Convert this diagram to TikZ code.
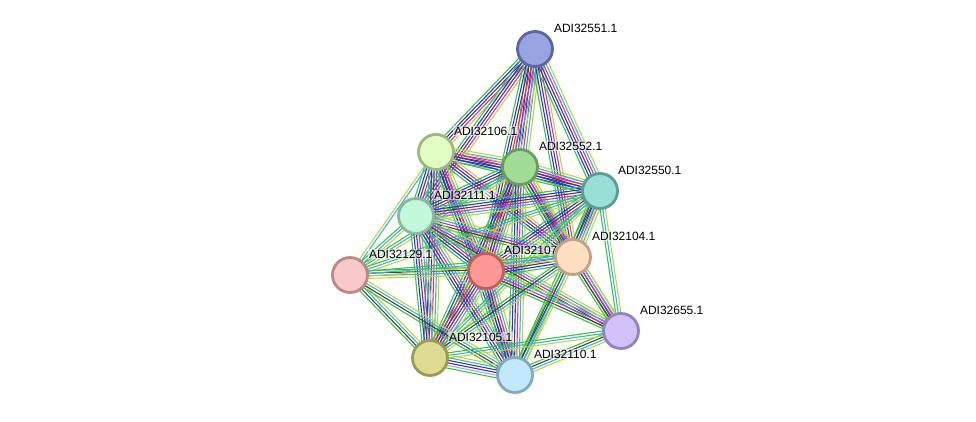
\documentclass[tikz,border=0pt]{standalone}
\usepackage{fontspec}
\setmainfont{Liberation Sans}
\usetikzlibrary{calc,backgrounds}

% node colours (fill / border)
\definecolor{f51}{HTML}{99A5E0}\definecolor{d51}{HTML}{5A66A6}
\definecolor{f06}{HTML}{E2FFC4}\definecolor{d06}{HTML}{9AB880}
\definecolor{f52}{HTML}{A1DC96}\definecolor{d52}{HTML}{6A9C5F}
\definecolor{f50}{HTML}{9ADFD6}\definecolor{d50}{HTML}{5A9C96}
\definecolor{f11}{HTML}{C2F9DB}\definecolor{d11}{HTML}{88B9A0}
\definecolor{f04}{HTML}{FFDFC2}\definecolor{d04}{HTML}{BFA088}
\definecolor{f07}{HTML}{FF9797}\definecolor{d07}{HTML}{BF5F5F}
\definecolor{f29}{HTML}{F8C9C9}\definecolor{d29}{HTML}{BF8888}
\definecolor{f55}{HTML}{D2C2F9}\definecolor{d55}{HTML}{9282C2}
\definecolor{f05}{HTML}{DEDB95}\definecolor{d05}{HTML}{9D9B52}
\definecolor{f10}{HTML}{C2E8FC}\definecolor{d10}{HTML}{82A8C2}
% evidence line colours
\definecolor{eG}{HTML}{3DC23D}
\definecolor{eB}{HTML}{2B2BFF}
\definecolor{eK}{HTML}{444444}
\definecolor{eM}{HTML}{D02AD0}
\definecolor{eR}{HTML}{FF2B2B}
\definecolor{eC}{HTML}{33B5E0}
\definecolor{eY}{HTML}{C2D43A}
\definecolor{eL}{HTML}{A6A6F8}

% bundle of parallel lines between two nodes
\newcommand{\bundle}[3]{%
  \foreach \c [count=\n] in {#3} {\xdef\bn{\n}}%
  \foreach \c [count=\i] in {#3} {
    \pgfmathsetmacro\off{(\i-(\bn+1)/2)*2.6}
    \draw[evline, \c] ($(#1)!\off pt!90:(#2)$) -- ($(#2)!\off pt!-90:(#1)$);
  }}

\begin{document}
\begin{tikzpicture}[x=1pt, y=-1pt,
  prot/.style 2 args={circle, minimum size=35pt, inner sep=0pt,
                      line width=2.8pt, fill=#1, draw=#2},
  lbl/.style={anchor=base west, inner sep=0.8pt, fill=white,
              fill opacity=0.55, text opacity=1,
              font=\fontsize{12}{14}\selectfont},
  evline/.style={line width=1.1pt},
]
\useasboundingbox (0,0) rectangle (976,421);

% === Proteins ===
\node[prot={f51}{d51}] (n51) at (535,49) {};
\node[lbl] (l51) at ($(n51)+(18,-17)$) {ADI32551.1};
\node[prot={f06}{d06}] (n06) at (436,152) {};
\node[lbl] (l06) at ($(n06)+(17,-17)$) {ADI32106.1};
\node[prot={f52}{d52}] (n52) at (520,167) {};
\node[lbl] (l52) at ($(n52)+(18,-17)$) {ADI32552.1};
\node[prot={f50}{d50}] (n50) at (600,191) {};
\node[lbl] (l50) at ($(n50)+(17,-17)$) {ADI32550.1};
\node[prot={f11}{d11}] (n11) at (416,216) {};
\node[lbl] (l11) at ($(n11)+(17,-17)$) {ADI32111.1};
\node[prot={f07}{d07}] (n07) at (486,271) {};
\node[lbl] (l07) at ($(n07)+(17,-17)$) {ADI32107.1};
\node[prot={f04}{d04}] (n04) at (573,257) {};
\node[lbl] (l04) at ($(n04)+(18,-17)$) {ADI32104.1};
\node[prot={f29}{d29}] (n29) at (350,275) {};
\node[lbl] (l29) at ($(n29)+(18,-17)$) {ADI32129.1};
\node[prot={f55}{d55}] (n55) at (621,331) {};
\node[lbl] (l55) at ($(n55)+(18,-17)$) {ADI32655.1};
\node[prot={f05}{d05}] (n05) at (430,358) {};
\node[lbl] (l05) at ($(n05)+(18,-17)$) {ADI32105.1};
\node[prot={f10}{d10}] (n10) at (515,375) {};
\node[lbl] (l10) at ($(n10)+(18,-17)$) {ADI32110.1};

% === Interactions ===
\begin{pgfonlayer}{background}
\bundle{n51}{n06}{eG,eB,eK,eM,eY}
\bundle{n51}{n11}{eG,eB,eK,eM,eY}
\bundle{n51}{n52}{eG,eB,eK,eM,eC,eY}
\bundle{n51}{n07}{eG,eB,eK,eR,eM,eC,eY}
\bundle{n51}{n04}{eG,eB,eK,eM,eY}
\bundle{n51}{n50}{eG,eB,eK,eM,eC,eY}
\bundle{n06}{n52}{eG,eB,eK,eM,eC,eY}
\bundle{n06}{n50}{eG,eB,eK,eM,eY}
\bundle{n06}{n11}{eG,eB,eK,eM,eC,eY}
\bundle{n06}{n07}{eG,eB,eK,eM,eC,eY}
\bundle{n06}{n04}{eG,eB,eK,eM,eY}
\bundle{n06}{n29}{eY,eC}
\bundle{n06}{n05}{eG,eB,eK,eM,eC,eY}
\bundle{n06}{n10}{eG,eB,eK,eM,eY}
\bundle{n52}{n50}{eG,eB,eK,eM,eC,eY}
\bundle{n52}{n11}{eG,eB,eK,eM,eC,eY}
\bundle{n52}{n07}{eG,eR,eB,eK,eM,eC,eY}
\bundle{n52}{n04}{eG,eB,eK,eM,eC,eY}
\bundle{n52}{n29}{eG,eC,eY}
\bundle{n52}{n05}{eG,eB,eK,eM,eY}
\bundle{n52}{n10}{eG,eB,eK,eM,eC,eY}
\bundle{n52}{n55}{eG,eK,eM,eY}
\bundle{n50}{n11}{eG,eB,eK,eM,eC,eY}
\bundle{n50}{n07}{eG,eB,eK,eM,eC,eY}
\bundle{n50}{n04}{eG,eB,eK,eM,eC,eY}
\bundle{n50}{n29}{eG,eC,eY}
\bundle{n50}{n55}{eG,eC,eY}
\bundle{n50}{n05}{eG,eC,eY}
\bundle{n50}{n10}{eG,eK,eC,eY}
\bundle{n11}{n07}{eG,eB,eK,eM,eC,eY}
\bundle{n11}{n04}{eG,eK,eM,eC,eY}
\bundle{n11}{n29}{eG,eC,eY}
\bundle{n11}{n05}{eG,eB,eK,eM,eC,eY}
\bundle{n11}{n10}{eG,eB,eK,eM,eC,eY}
\bundle{n11}{n55}{eG,eK,eM,eC,eY}
\bundle{n07}{n04}{eG,eB,eK,eM,eC,eY}
\bundle{n07}{n29}{eG,eK,eC,eY}
\bundle{n07}{n55}{eG,eK,eM,eC,eY}
\bundle{n07}{n05}{eG,eR,eB,eK,eM,eC,eY}
\bundle{n07}{n10}{eG,eB,eK,eM,eC,eY}
\bundle{n04}{n29}{eG,eC,eY}
\bundle{n04}{n55}{eG,eK,eM,eC,eY}
\bundle{n04}{n05}{eG,eK,eC,eY}
\bundle{n04}{n10}{eG,eK,eC,eY}
\bundle{n29}{n05}{eG,eK,eC,eY}
\bundle{n29}{n10}{eG,eK,eC,eY}
\bundle{n55}{n10}{eG,eK,eC,eY}
\bundle{n55}{n05}{eG,eC,eY}
\bundle{n05}{n10}{eG,eL,eB,eK,eC,eY}
\end{pgfonlayer}

\end{tikzpicture}
\end{document}
